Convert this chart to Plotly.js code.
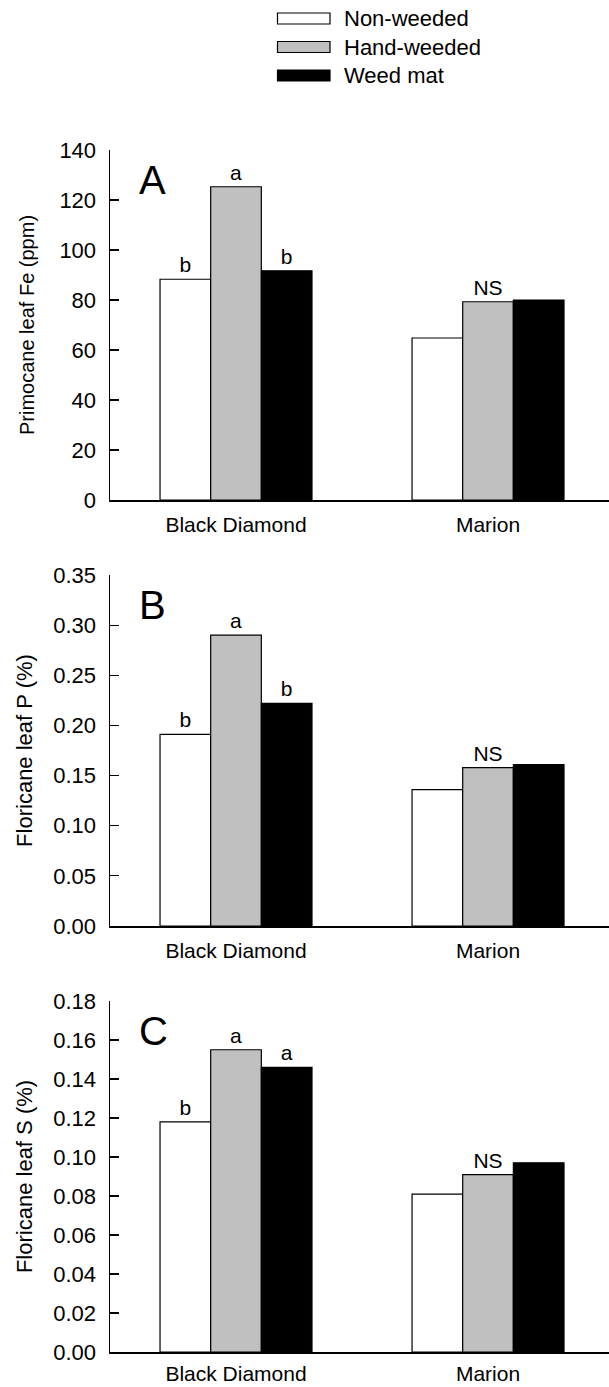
<!DOCTYPE html>
<html>
<head>
<meta charset="utf-8">
<script src="https://cdn.plot.ly/plotly-3.0.1.min.js"></script>
<style>html,body{margin:0;padding:0;background:#fff;}#chart{width:609px;height:1387px;}</style>
</head>
<body>
<div id="chart"></div>
<script>
// ---- Data ----
const categories = ['Black Diamond', 'Marion'];
const seriesNames = ['Non-weeded', 'Hand-weeded', 'Weed mat'];
const seriesColors = ['#ffffff', '#c0c0c0', '#000000'];

// Panel A: Primocane leaf Fe (ppm)
const feNon = [88.3, 64.8];
const feHand = [125.3, 79.3];
const feMat = [91.7, 80.0];
const feLetNon = ['b', ''];
const feLetHand = ['a', 'NS'];
const feLetMat = ['b', ''];

// Panel B: Floricane leaf P (%)
const pNon = [0.191, 0.136];
const pHand = [0.290, 0.158];
const pMat = [0.222, 0.161];
const pLetNon = ['b', ''];
const pLetHand = ['a', 'NS'];
const pLetMat = ['b', ''];

// Panel C: Floricane leaf S (%)
const sNon = [0.118, 0.081];
const sHand = [0.155, 0.091];
const sMat = [0.146, 0.097];
const sLetNon = ['b', ''];
const sLetHand = ['a', 'NS'];
const sLetMat = ['a', ''];

const panelLabels = ['A', 'B', 'C'];
const yTitles = ['Primocane leaf Fe (ppm)', 'Floricane leaf P (%)', 'Floricane leaf S (%)'];

// ---- Layout helpers ----
const W = 609, H = 1387;
const FONT = 'Arial, "Liberation Sans", sans-serif';
const px = v => v / W;
const py = v => 1 - v / H;

const panels = [
  {vals: [feNon, feHand, feMat], lets: [feLetNon, feLetHand, feLetMat], top: 150, bot: 500, range: [0, 140], dtick: 20, fmt: 'd', tsize: 20, stand: 19, xstand: 5},
  {vals: [pNon, pHand, pMat], lets: [pLetNon, pLetHand, pLetMat], top: 575, bot: 926, range: [0, 0.35], dtick: 0.05, fmt: '.2f', tsize: 22, stand: 14, xstand: 5},
  {vals: [sNon, sHand, sMat], lets: [sLetNon, sLetHand, sLetMat], top: 1001, bot: 1352, range: [0, 0.18], dtick: 0.02, fmt: '.2f', tsize: 22, stand: 14, xstand: 2}
];

const traces = [];
const layout = {
  width: W, height: H,
  margin: {l: 0, r: 0, t: 0, b: 0, pad: 0},
  paper_bgcolor: '#fff', plot_bgcolor: '#fff',
  showlegend: false,
  barmode: 'group', bargap: 0.397, bargroupgap: 0,
  font: {family: FONT, size: 22, color: '#000'},
  shapes: [], annotations: []
};

panels.forEach((p, i) => {
  const sfx = i === 0 ? '' : String(i + 1);
  const xa = 'x' + sfx, ya = 'y' + sfx;
  p.vals.forEach((v, s) => {
    traces.push({
      type: 'bar', x: categories, y: v, name: seriesNames[s],
      xaxis: xa, yaxis: ya,
      marker: {color: seriesColors[s], line: {color: '#000', width: 1.2}},
      text: p.lets[s], textposition: 'outside', cliponaxis: false,
      textfont: {family: FONT, size: 21, color: '#000'},
      hoverinfo: 'x+y'
    });
  });
  layout['xaxis' + sfx] = {
    domain: [px(110), 1], range: [-0.5, 1.48], type: 'category',
    anchor: ya, showline: true, linecolor: '#000', linewidth: 1.5,
    ticks: '', showgrid: false, zeroline: false, automargin: false,
    tickfont: {family: FONT, size: 21, color: '#000'}, ticklabelstandoff: p.xstand
  };
  layout['yaxis' + sfx] = {
    domain: [py(p.bot), py(p.top)], range: p.range, dtick: p.dtick, tick0: 0,
    tickformat: p.fmt, anchor: xa, showline: true, linecolor: '#000', linewidth: 1.5,
    ticks: 'inside', ticklen: 9, tickwidth: 1.2, tickcolor: '#000',
    showgrid: false, zeroline: false, automargin: false,
    tickfont: {family: FONT, size: 22, color: '#000'}, ticklabelstandoff: 8,
    title: {text: yTitles[i], font: {family: FONT, size: p.tsize, color: '#000'}, standoff: p.stand}
  };
  layout.annotations.push({
    text: panelLabels[i], xref: xa + ' domain', yref: ya + ' domain',
    x: 0.054, y: 0.915, xanchor: 'left', yanchor: 'middle', showarrow: false,
    font: {family: FONT, size: 40, color: '#000'}
  });
});

// ---- Custom legend (wide swatches) ----
const legRows = [18.5, 47, 75.5];
seriesNames.forEach((n, s) => {
  layout.shapes.push({
    type: 'rect', xref: 'paper', yref: 'paper',
    x0: px(277.5), x1: px(330), y0: py(legRows[s] - 5.5), y1: py(legRows[s] + 5.5),
    fillcolor: seriesColors[s], line: {color: '#000', width: 1.2}
  });
  layout.annotations.push({
    text: n, xref: 'paper', yref: 'paper', x: px(342), y: py(legRows[s]),
    xanchor: 'left', yanchor: 'middle', showarrow: false,
    font: {family: FONT, size: 22, color: '#000'}
  });
});

Plotly.newPlot('chart', traces, layout, {displayModeBar: false, staticPlot: true});
</script>
</body>
</html>
